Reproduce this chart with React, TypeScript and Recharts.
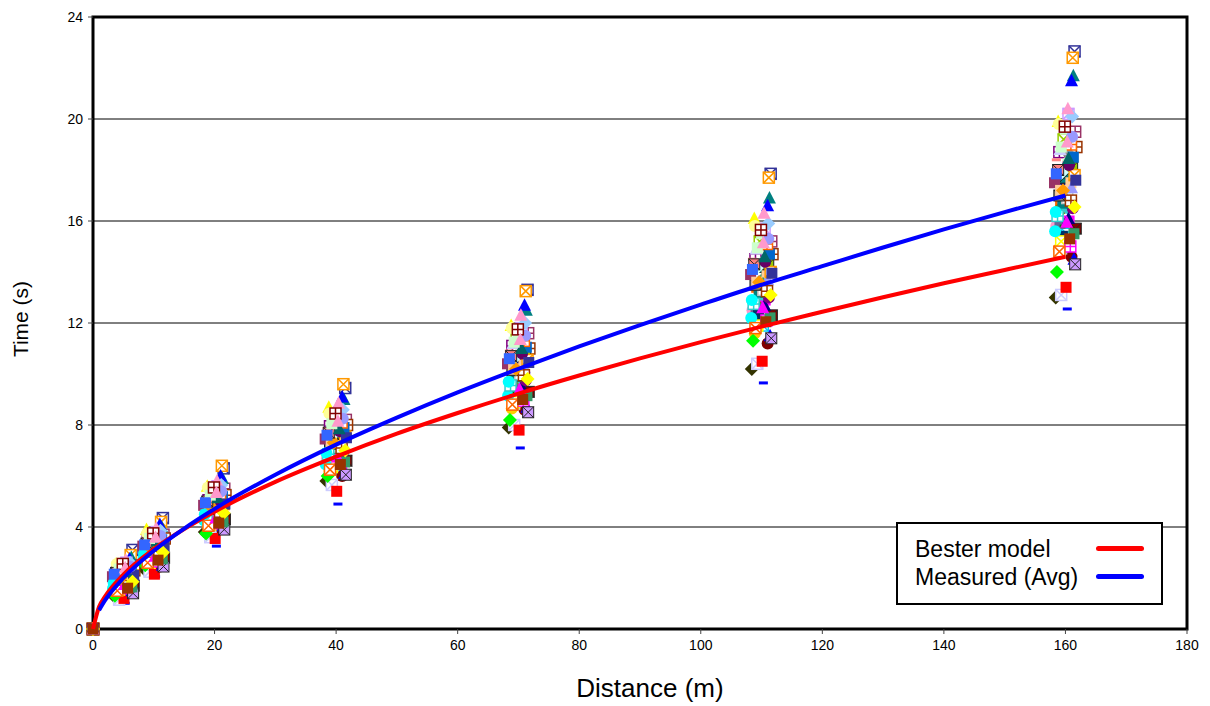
import {
  ComposedChart,
  XAxis,
  YAxis,
  CartesianGrid,
  Scatter,
  Line,
  ReferenceArea,
} from "recharts";

// distances where runners were timed
const distances = [5, 10, 20, 40, 70, 110, 160];

// per-runner x offset (m) so the markers do not sit on one line
const xOffset = [
  -0.4, 0.6, -1.2, 0.2, -1.0, 1.0, -0.2, 0.3, 1.5, -0.8, 0.8, -1.5, 1.2, 0.0, -0.6, 1.6,
  -1.3, 0.4, 1.3, -1.6, 0.9, -0.3, 1.0, 1.8, -0.9, 0.5, -0.1, 1.1, -1.1, 0.7, -0.5, -0.7,
  0.1, -1.4, 1.4, -0.7, 0.8, -1.7, 1.7, -0.2, 0.5, -1.2, 1.2, -0.4, 0.3, -1.0, 1.0, -1.8,
  1.5, -0.6, 0.6, -1.5, 1.3, -0.9, 0.9, -0.3, 0.0, -1.1, 1.1, 0.4, 1.6, -0.8, 0.2, -1.3,
  -1.0, 1.4, 0.2, -1.6, 0.9, -0.4, 1.7, -1.2, 0.5, -0.7, 1.1, -0.1, 1.5, -1.5, 0.3, 0.7,
];

// measured times (s), one value per runner
const t5 = [
  2.1, 1.7, 2.55, 1.65, 2.35, 1.5, 2.2, 1.01, 3.1, 1.85, 2.45, 1.6, 2.9, 1.95, 1.5, 2.5,
  1.8, 2.25, 2.8, 1.3, 2.15, 2.0, 2.75, 2.3, 1.75, 2.6, 1.9, 2.2, 1.45, 2.4, 1.65, 1.15,
  1.2, 1.3, 1.5, 1.55, 1.6, 1.6, 1.7, 1.75, 1.8, 1.8, 1.85, 1.9, 1.95, 2.0, 2.05, 2.05,
  2.1, 2.15, 2.2, 2.25, 2.3, 2.35, 2.4, 2.45, 2.5, 2.55, 2.6, 2.7, 1.4, 2.0, 2.25, 1.75,
  1.5, 1.65, 1.75, 1.8, 1.9, 2.0, 2.1, 2.2, 2.25, 2.35, 2.45, 2.55, 1.85, 2.15, 2.4, 1.6,
];
const t10 = [
  3.15, 2.95, 3.9, 2.6, 3.5, 2.45, 3.25, 2.05, 4.35, 3.1, 3.55, 2.85, 4.2, 3.2, 2.7, 3.7,
  3.0, 3.45, 4.0, 2.35, 3.3, 3.05, 4.1, 3.55, 2.8, 3.8, 2.95, 3.4, 2.55, 3.6, 2.75, 2.25,
  2.15, 2.5, 2.5, 2.6, 2.65, 2.75, 2.8, 2.85, 2.9, 2.9, 3.0, 3.05, 3.1, 3.15, 3.2, 3.25,
  3.3, 3.35, 3.4, 3.45, 3.5, 3.55, 3.6, 3.65, 3.7, 3.75, 3.85, 3.95, 2.45, 3.1, 3.4, 2.9,
  2.6, 2.75, 2.85, 2.95, 3.05, 3.15, 3.25, 3.35, 3.45, 3.55, 3.65, 3.75, 3.0, 3.3, 3.6, 2.7,
];
const t20 = [
  4.9, 4.35, 5.6, 4.2, 5.05, 3.95, 5.0, 3.25, 6.3, 4.55, 5.4, 4.25, 6.4, 4.7, 4.0, 5.5,
  4.45, 5.1, 5.9, 3.8, 4.85, 4.7, 6.0, 5.25, 4.4, 5.6, 4.6, 5.0, 4.05, 5.3, 4.2, 3.6,
  3.55, 3.75, 4.05, 4.1, 4.15, 4.25, 4.3, 4.35, 4.4, 4.5, 4.55, 4.6, 4.65, 4.7, 4.8, 4.85,
  4.9, 5.0, 5.05, 5.1, 5.2, 5.25, 5.3, 5.35, 5.45, 5.55, 5.65, 5.8, 3.9, 4.75, 5.05, 4.45,
  4.05, 4.2, 4.35, 4.5, 4.6, 4.75, 4.9, 5.0, 5.15, 5.25, 5.4, 5.55, 4.55, 4.95, 5.35, 4.15,
];
const t40 = [
  7.3, 6.9, 8.7, 6.3, 7.95, 6.0, 7.5, 4.9, 9.45, 7.2, 8.1, 6.7, 9.6, 7.35, 6.4, 8.2,
  6.85, 7.7, 9.0, 5.8, 7.55, 7.15, 9.1, 8.0, 6.7, 8.5, 7.0, 7.65, 6.2, 8.1, 6.55, 5.65,
  5.4, 6.0, 6.1, 6.35, 6.5, 6.45, 6.6, 6.75, 6.8, 6.9, 6.95, 7.1, 7.15, 7.25, 7.35, 7.45,
  7.55, 7.6, 7.75, 7.85, 7.9, 8.05, 8.1, 8.2, 8.3, 8.45, 8.6, 8.85, 6.05, 7.3, 7.8, 6.85,
  6.25, 6.55, 6.75, 6.9, 7.1, 7.3, 7.5, 7.7, 7.85, 8.05, 8.25, 8.45, 7.0, 7.6, 8.15, 6.45,
];
const t70 = [
  10.5, 9.4, 11.9, 9.1, 11.1, 8.6, 10.7, 7.1, 13.3, 9.8, 11.5, 9.2, 13.25, 10.1, 8.8, 11.6,
  9.7, 10.9, 12.5, 7.9, 10.4, 10.0, 12.7, 11.0, 9.5, 11.8, 9.85, 10.8, 8.65, 11.2, 9.2, 8.0,
  7.8, 8.2, 8.7, 8.9, 8.95, 9.15, 9.3, 9.3, 9.5, 9.65, 9.75, 9.9, 10.0, 10.15, 10.25, 10.4,
  10.55, 10.65, 10.8, 10.9, 11.05, 11.2, 11.3, 11.45, 11.6, 11.8, 12.0, 12.3, 8.5, 10.2, 10.85, 9.55,
  8.8, 9.15, 9.4, 9.7, 9.95, 10.2, 10.45, 10.7, 11.0, 11.25, 11.5, 11.75, 9.8, 10.6, 11.35, 9.0,
];
const t110 = [
  13.6, 12.9, 16.1, 11.9, 14.5, 11.2, 14.2, 9.65, 17.85, 13.4, 15.0, 12.5, 17.7, 13.7, 12.0, 15.2,
  12.8, 14.4, 16.9, 10.2, 14.0, 13.5, 16.6, 14.7, 12.6, 15.7, 13.1, 14.3, 11.6, 15.0, 12.3, 10.4,
  10.5, 11.3, 11.5, 11.9, 12.1, 12.2, 12.3, 12.6, 12.7, 12.8, 13.0, 13.2, 13.3, 13.5, 13.7, 13.9,
  14.0, 14.2, 14.4, 14.5, 14.7, 14.9, 15.1, 15.2, 15.5, 15.8, 15.9, 16.3, 11.4, 13.6, 14.45, 12.75,
  11.8, 12.2, 12.6, 12.9, 13.25, 13.6, 13.95, 14.3, 14.6, 14.95, 15.3, 15.65, 13.1, 14.1, 15.15, 12.05,
];
const t160 = [
  17.6, 16.0, 19.9, 15.5, 18.7, 14.6, 17.7, 12.55, 22.65, 16.6, 19.3, 15.8, 22.4, 17.1, 14.9, 19.5,
  16.4, 18.3, 21.7, 13.0, 17.5, 16.9, 21.5, 18.9, 15.9, 20.2, 16.5, 18.1, 14.9, 18.6, 15.4, 13.1,
  13.4, 14.0, 14.5, 15.2, 15.0, 15.6, 15.7, 15.8, 16.1, 16.3, 16.5, 16.7, 16.9, 17.0, 17.3, 17.5,
  17.8, 17.9, 18.2, 18.4, 18.5, 18.8, 19.0, 19.2, 19.6, 19.8, 20.1, 20.4, 14.3, 17.2, 18.3, 16.2,
  14.8, 15.5, 15.95, 16.35, 16.8, 17.2, 17.6, 18.0, 18.45, 18.9, 19.3, 19.7, 16.55, 17.85, 19.1, 15.3,
];
const timesByDistance = [t5, t10, t20, t40, t70, t110, t160];

// marker style per runner
const markerKind = [
  "diamond", "square", "triangle", "xbox", "gridbox", "circle", "xfill", "dash",
  "xbox", "square", "diamond", "circle", "xbox", "triangle", "square", "gridbox",
  "diamond", "circle", "triangle", "diamond", "square", "triangle", "triangle", "gridbox",
  "square", "xbox", "square", "xfill", "circle", "diamond", "square", "xbox",
  "square", "diamond", "triangle", "xbox", "gridbox", "circle", "xfill", "dash",
  "triangle", "diamond", "circle", "square", "gridbox", "xfill", "triangle", "square",
  "xbox", "diamond", "circle", "dash", "square", "triangle", "gridbox", "xbox",
  "square", "circle", "diamond", "triangle", "xfill", "square", "dash", "gridbox",
  "xbox", "square", "triangle", "circle", "gridbox", "diamond", "square", "xfill",
  "triangle", "square", "circle", "gridbox", "diamond", "square", "triangle", "square",
];
const markerColor = [
  "#000080", "#FF00FF", "#FFFF00", "#00CCFF", "#800080", "#800000", "#008080", "#0000FF",
  "#333399", "#FF6600", "#99CCFF", "#FF99CC", "#FF9900", "#339966", "#C0C0C0", "#993366",
  "#808000", "#CCFFCC", "#008080", "#333300", "#FFCC99", "#3366FF", "#0000FF", "#993300",
  "#666699", "#CC99FF", "#33CCCC", "#99CC00", "#FFCC00", "#969696", "#003366", "#CCCCFF",
  "#FF0000", "#00FF00", "#0000FF", "#FFFF00", "#FF00FF", "#00FFFF", "#800000", "#008000",
  "#000080", "#808000", "#800080", "#008080", "#C0C0C0", "#808080", "#9999FF", "#993366",
  "#FF9900", "#CCFFFF", "#660066", "#FF8080", "#0066CC", "#CCCCFF", "#FF6600", "#99CC00",
  "#CCFFCC", "#FFFF99", "#99CCFF", "#FF99CC", "#CC99FF", "#FFCC99", "#FF99CC", "#33CCCC",
  "#FF6600", "#339966", "#FF00FF", "#00FFFF", "#993300", "#FF9900", "#333399", "#FF8080",
  "#006666", "#CCFFCC", "#9999FF", "#800000", "#FFFF00", "#3366FF", "#FF99CC", "#993300",
];

// Bester model curve
const besterDist = [0, 1, 2, 5, 10, 15, 20, 30, 40, 50, 60, 70, 80, 90, 100, 110, 120, 130, 140, 150, 160];
const besterTime = [0, 0.87, 1.28, 2.13, 3.13, 3.92, 4.6, 5.77, 6.76, 7.66, 8.47, 9.23, 9.94, 10.61, 11.25, 11.86, 12.44, 13.01, 13.56, 14.08, 14.6];

// measured average curve
const avgDist = [1, 2, 5, 10, 15, 20, 30, 40, 50, 60, 70, 80, 90, 100, 110, 120, 130, 140, 150, 160];
const avgTime = [0.74, 1.13, 2.0, 3.07, 3.94, 4.71, 6.05, 7.23, 8.29, 9.28, 10.2, 11.08, 11.92, 12.72, 13.5, 14.23, 14.96, 15.67, 16.35, 17.0];

const xTicks = [0, 20, 40, 60, 80, 100, 120, 140, 160, 180];
const yTicks = [0, 4, 8, 12, 16, 20, 24];

const legendItems = [
  { name: "Bester model", color: "#FF0000" },
  { name: "Measured (Avg)", color: "#0000FF" },
];

const runnerData = markerKind.map((_, i) => [
  { d: 0, t: 0 },
  ...distances.map((D, k) => ({ d: D + xOffset[i], t: timesByDistance[k][i] })),
]);
const besterData = besterDist.map((d, i) => ({ d, t: besterTime[i] }));
const avgData = avgDist.map((d, i) => ({ d, t: avgTime[i] }));

const Marker = ({ cx, cy, kind, color }: any) => {
  if (cx == null || cy == null) return null;
  const s = 5.5;
  const cross = `M${cx - s},${cy - s}L${cx + s},${cy + s}M${cx + s},${cy - s}L${cx - s},${cy + s}`;
  switch (kind) {
    case "square":
      return <rect x={cx - s} y={cy - s} width={2 * s} height={2 * s} fill={color} />;
    case "diamond":
      return (
        <polygon
          points={`${cx},${cy - 7} ${cx + 7},${cy} ${cx},${cy + 7} ${cx - 7},${cy}`}
          fill={color}
        />
      );
    case "triangle":
      return (
        <polygon
          points={`${cx},${cy - 7} ${cx + 6.5},${cy + 5.5} ${cx - 6.5},${cy + 5.5}`}
          fill={color}
        />
      );
    case "circle":
      return <circle cx={cx} cy={cy} r={6} fill={color} />;
    case "dash":
      return <rect x={cx - 4.5} y={cy - 1.5} width={9} height={3} fill={color} />;
    case "xbox":
      return (
        <g stroke={color} strokeWidth={1.5} fill="#fff">
          <rect x={cx - s} y={cy - s} width={2 * s} height={2 * s} />
          <path d={cross} />
        </g>
      );
    case "xfill":
      return (
        <g>
          <rect x={cx - s} y={cy - s} width={2 * s} height={2 * s} fill={color} stroke="#222" strokeWidth={1} />
          <path d={cross} stroke="#222" strokeWidth={1} />
        </g>
      );
    case "gridbox":
      return (
        <g stroke={color} strokeWidth={1.5} fill="#fff">
          <rect x={cx - s} y={cy - s} width={2 * s} height={2 * s} />
          <path d={`M${cx},${cy - s}L${cx},${cy + s}M${cx - s},${cy}L${cx + s},${cy}`} />
        </g>
      );
    default:
      return null;
  }
};

export default function App() {
  return (
    <div style={{ position: "relative", width: 1200, height: 696, fontFamily: "'Liberation Sans', Arial, sans-serif" }}>
      <ComposedChart width={1200} height={696} margin={{ top: 9, right: 21, bottom: 0, left: 0 }}>
        <CartesianGrid vertical={false} stroke="#000" strokeWidth={1} />
        <XAxis
          type="number"
          dataKey="d"
          domain={[0, 180]}
          ticks={xTicks}
          height={75}
          axisLine={false}
          tickSize={5}
          tickMargin={6}
          tickLine={{ stroke: "#444" }}
          tick={{ fill: "#000", fontSize: 14 }}
          label={{ value: "Distance (m)", position: "insideBottom", offset: 7, dx: 10, fill: "#000", fontSize: 26 }}
        />
        <YAxis
          type="number"
          dataKey="t"
          domain={[0, 24]}
          ticks={yTicks}
          width={85}
          axisLine={false}
          tickSize={5}
          tickMargin={5}
          tickLine={{ stroke: "#444" }}
          tick={{ fill: "#000", fontSize: 14 }}
          label={{
            value: "Time (s)",
            angle: -90,
            position: "insideLeft",
            offset: 13,
            dy: -4,
            fill: "#000",
            fontSize: 21,
            style: { textAnchor: "middle" },
          }}
        />
        <ReferenceArea
          x1={0}
          x2={180}
          y1={0}
          y2={24}
          fill="none"
          fillOpacity={0}
          stroke="#000"
          strokeWidth={3}
          strokeOpacity={1}
        />
        {runnerData.map((pts, i) => (
          <Scatter
            key={i}
            name={`Runner ${i + 1}`}
            data={pts}
            isAnimationActive={false}
            legendType="none"
            shape={(p: any) => <Marker cx={p.cx} cy={p.cy} kind={markerKind[i]} color={markerColor[i]} />}
          />
        ))}
        <Line
          data={besterData}
          dataKey="t"
          type="monotone"
          stroke="#FF0000"
          strokeWidth={4}
          dot={false}
          activeDot={false}
          isAnimationActive={false}
          zIndex={700}
        />
        <Line
          data={avgData}
          dataKey="t"
          type="monotone"
          stroke="#0000FF"
          strokeWidth={4}
          dot={false}
          activeDot={false}
          isAnimationActive={false}
          zIndex={700}
        />
      </ComposedChart>
      <div
        style={{
          position: "absolute",
          left: 888,
          top: 514,
          width: 267,
          height: 83,
          boxSizing: "border-box",
          border: "2px solid #000",
          background: "#fff",
        }}
      >
        {legendItems.map((item, i) => (
          <div
            key={item.name}
            style={{ position: "absolute", left: 17, top: 12 + i * 28, fontSize: 23, lineHeight: "26px", color: "#000" }}
          >
            {item.name}
          </div>
        ))}
        {legendItems.map((item, i) => (
          <div
            key={item.name + "-line"}
            style={{
              position: "absolute",
              left: 198,
              top: 22 + i * 28,
              width: 48,
              height: 5,
              borderRadius: 3,
              background: item.color,
            }}
          />
        ))}
      </div>
    </div>
  );
}
